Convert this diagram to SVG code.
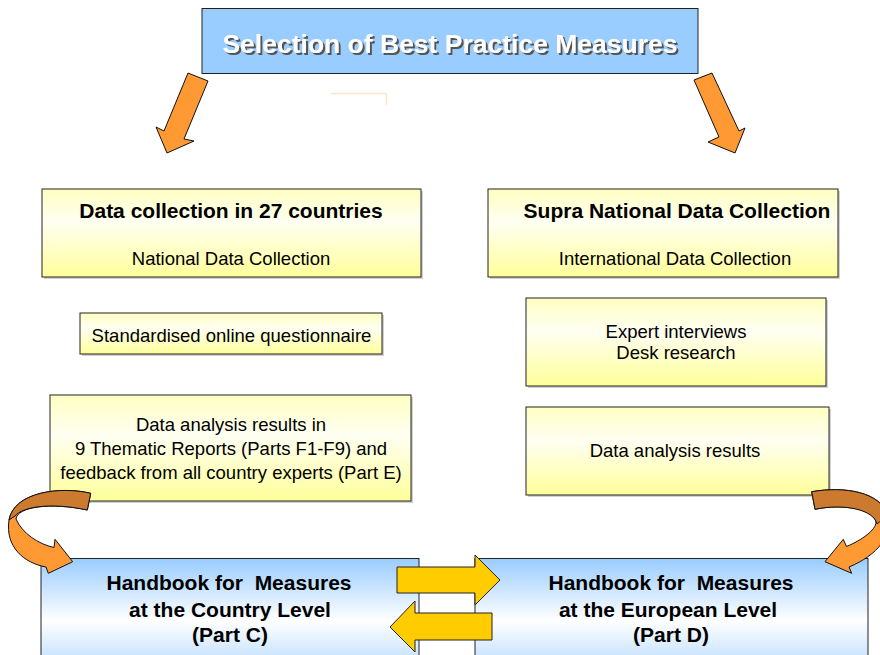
<svg xmlns="http://www.w3.org/2000/svg" width="880" height="655" viewBox="0 0 880 655">
<defs>
<linearGradient id="yel" x1="0" y1="0" x2="0" y2="1">
<stop offset="0" stop-color="#ffffc2"/>
<stop offset="0.38" stop-color="#fffff2"/>
<stop offset="1" stop-color="#ffff9a"/>
</linearGradient>
<linearGradient id="blu" x1="0" y1="0" x2="0" y2="1">
<stop offset="0" stop-color="#99ccff"/>
<stop offset="0.47" stop-color="#ffffff"/>
<stop offset="1" stop-color="#99ccff"/>
</linearGradient>
<filter id="tsh" x="-5%" y="-30%" width="110%" height="160%">
<feOffset in="SourceAlpha" dx="1.5" dy="1.5" result="o"/>
<feGaussianBlur in="o" stdDeviation="0.6" result="b"/>
<feFlood flood-color="#555555"/>
<feComposite in2="b" operator="in" result="s"/>
<feMerge><feMergeNode in="s"/><feMergeNode in="SourceGraphic"/></feMerge>
</filter>
</defs>
<style>
.box{stroke:#222;stroke-width:1}
.yb{fill:url(#yel)}
.sh{fill:#999;opacity:0.45}
.t{font-family:"Liberation Sans",Arial,sans-serif;fill:#000;text-anchor:middle}
.r{font-size:18.5px}
.b{font-size:21px;font-weight:bold}
.hb{font-size:21px;font-weight:bold;white-space:pre}
.or{fill:#ff9933;stroke:#111;stroke-width:1;stroke-linejoin:miter}
.dk{fill:#cc7a30;stroke:#111;stroke-width:1}
.ya{fill:#ffcc00;stroke:#222;stroke-width:1}
</style>
<rect width="880" height="655" fill="#ffffff"/>

<g id="top">
<rect x="202" y="8.5" width="496" height="65" fill="#99ccff" class="box"/>
<text x="450" y="53" class="t" style="font-size:26.5px;font-weight:bold;fill:#ffffff" filter="url(#tsh)">Selection of Best Practice Measures</text>
</g>

<polyline points="331,93.5 386.5,93.5 386.5,105" fill="none" stroke="#fde6cc" stroke-width="1.5"/>

<g id="national">
<rect x="44" y="191" width="379" height="88" class="sh"/>
<rect x="42" y="189" width="379" height="88" class="box yb"/>
<text x="231" y="218" class="t b">Data collection in 27 countries</text>
<text x="231" y="265" class="t r">National Data Collection</text>
</g>

<g id="supra">
<rect x="490" y="191" width="350" height="88" class="sh"/>
<rect x="488" y="189" width="350" height="88" class="box yb"/>
<text x="677" y="218" class="t b">Supra National Data Collection</text>
<text x="675" y="265" class="t r">International Data Collection</text>
</g>

<g id="questionnaire">
<rect x="82" y="315" width="302" height="41" class="sh"/>
<rect x="80" y="313" width="302" height="41" class="box yb"/>
<text x="231.5" y="342" class="t r">Standardised online questionnaire</text>
</g>

<g id="expert">
<rect x="528" y="300" width="300" height="88" class="sh"/>
<rect x="526" y="298" width="300" height="88" class="box yb"/>
<text x="676" y="338" class="t r">Expert interviews</text>
<text x="676" y="359" class="t r">Desk research</text>
</g>

<g id="analysis-national">
<rect x="52" y="397" width="361" height="106" class="sh"/>
<rect x="50" y="395" width="361" height="106" class="box yb"/>
<text x="231" y="431" class="t r">Data analysis results in</text>
<text x="231" y="455" class="t r">9 Thematic Reports (Parts F1-F9) and</text>
<text x="231" y="479" class="t r">feedback from all country experts (Part E)</text>
</g>

<g id="analysis-supra">
<rect x="528" y="409" width="303" height="88" class="sh"/>
<rect x="526" y="407" width="303" height="88" class="box yb"/>
<text x="675" y="457" class="t r">Data analysis results</text>
</g>

<g id="handbook-country">
<rect x="41" y="558.5" width="378" height="132" fill="url(#blu)" class="box"/>
<text x="229" y="590" class="t hb" xml:space="preserve">Handbook for  Measures</text>
<text x="230" y="616.5" class="t hb">at the Country Level</text>
<text x="230" y="642" class="t hb">(Part C)</text>
</g>

<g id="handbook-european">
<rect x="475" y="558.5" width="393" height="132" fill="url(#blu)" class="box"/>
<text x="671" y="590" class="t hb" xml:space="preserve">Handbook for  Measures</text>
<text x="668" y="616.5" class="t hb">at the European Level</text>
<text x="671" y="642" class="t hb">(Part D)</text>
</g>

<g id="connectors">
<polygon class="or" points="188,73 208,81 184,139 194,141 167,153 156,127 164,131"/>
<polygon class="or" points="694,80 712,73 739,131 745,128 735,153 708,142 719,137"/>

<path class="or" d="M90.7,493.3 C60,486 14,492 9,520 C5,547 24,563 46,567 L48.3,573.3 L72.7,561.7 L55,539.3 L54,547.5 C38,544 22,533 16,519 C17,507 50,502 87.3,510 Z"/>
<path class="dk" d="M90.7,493.3 C60,486 14,492 9,520 L15,516 C22,507 50,502 87.3,510 Z"/>

<path class="or" d="M811.7,491.7 C845,486 880,492 888,515 C893,535 878,555 849,567 L851.7,573.3 L825,561.7 L843.3,539.3 L846.5,546.5 C862,540 876,530 876,522 C874,510 845,503 815,509.3 Z"/>
<path class="dk" d="M811.7,491.7 C845,486 880,492 888,515 L877,524 C874,510 845,503 815,509.3 Z"/>

<path class="ya" d="M397,567 L475,567 L475,555 L500,580 L475,605 L475,593 L397,593 Z"/>
<path class="ya" d="M492,613 L415,613 L415,601 L390,627 L415,652 L415,640 L492,640 Z"/>
</g>
</svg>
